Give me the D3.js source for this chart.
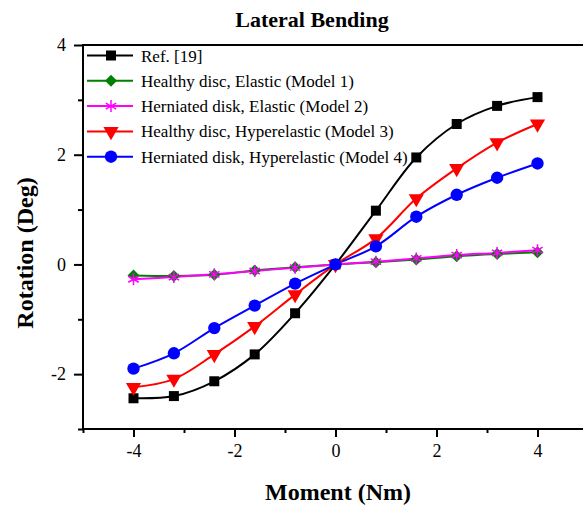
<!DOCTYPE html>
<html>
<head>
<meta charset="utf-8">
<script src="https://cdn.jsdelivr.net/npm/d3@7"></script>
<style>
body { margin: 0; background: #fff; }
text { font-family: "Liberation Serif", "Times New Roman", serif; }
</style>
</head>
<body>
<svg id="vis" width="583" height="506"></svg>
<script>
var moments = [-4, -3.2, -2.4, -1.6, -0.8, 0, 0.8, 1.6, 2.4, 3.2, 4];

var refValues    = [-2.44, -2.40, -2.13, -1.64, -0.89, 0, 0.98, 1.95, 2.56, 2.89, 3.05];
var model1Values = [-0.20, -0.21, -0.19, -0.11, -0.05, 0, 0.04, 0.09, 0.15, 0.19, 0.22];
var model2Values = [-0.27, -0.23, -0.18, -0.12, -0.06, 0, 0.05, 0.11, 0.17, 0.21, 0.26];
var model3Values = [-2.24, -2.09, -1.64, -1.13, -0.55, 0, 0.47, 1.20, 1.75, 2.22, 2.56];
var model4Values = [-1.90, -1.62, -1.16, -0.75, -0.35, 0, 0.33, 0.87, 1.27, 1.58, 1.84];

var seriesNames = [
    "Ref. [19]",
    "Healthy disc, Elastic (Model 1)",
    "Herniated disk, Elastic (Model 2)",
    "Healthy disc, Hyperelastic (Model 3)",
    "Herniated disk, Hyperelastic (Model 4)"
];
var seriesColors = ["#000000", "#008000", "#ff00ff", "#ff0000", "#0000ff"];
var seriesMarkers = ["square", "diamond", "star", "triangleDown", "circle"];

var xMajorTicks = [-4, -2, 0, 2, 4];
var xMinorTicks = [-5, -3, -1, 1, 3, 5];
var yMajorTicks = [-2, 0, 2, 4];
var yMinorTicks = [-3, -1, 1, 3];

var series = [refValues, model1Values, model2Values, model3Values, model4Values].map(function(vals, i) {
    return {
        name: seriesNames[i],
        color: seriesColors[i],
        marker: seriesMarkers[i],
        points: vals.map(function(v, j) { return {x: moments[j], y: v}; })
    };
});

var svg = d3.select("#vis");
var margin = {left: 83, right: -5, top: 45, bottom: 77};
var width = 583 - margin.left - margin.right;
var height = 506 - margin.top - margin.bottom;

var x = d3.scaleLinear().domain([-5, 5]).range([margin.left, margin.left + width]);
var y = d3.scaleLinear().domain([-3, 4]).range([margin.top + height, margin.top]);

var fmt = function(d) { return String(d); }; // plain hyphen minus like the original

// axes
var xAxis = svg.append("g").attr("transform", "translate(0," + y(-3) + ")");
xAxis.call(d3.axisBottom(x).tickValues(xMajorTicks).tickSize(8).tickPadding(7).tickFormat(fmt));
xAxis.append("g").call(d3.axisBottom(x).tickValues(xMinorTicks).tickSize(4).tickFormat(""));

var yAxis = svg.append("g").attr("transform", "translate(" + x(-5) + ",0)");
yAxis.call(d3.axisLeft(y).tickValues(yMajorTicks).tickSize(9).tickPadding(8).tickFormat(fmt));
yAxis.append("g").call(d3.axisLeft(y).tickValues(yMinorTicks).tickSize(5).tickFormat(""));

svg.selectAll(".domain").remove();
svg.selectAll(".tick line").attr("stroke", "#000").attr("stroke-width", 2);
svg.selectAll(".tick text")
    .style("font-family", "Liberation Serif")
    .style("font-size", "18px")
    .attr("fill", "#000");

// frame lines (left, bottom, top)
svg.append("line").attr("x1", x(-5)).attr("x2", x(-5)).attr("y1", y(4)).attr("y2", y(-3))
    .attr("stroke", "#000").attr("stroke-width", 2);
svg.append("line").attr("x1", x(-5) - 1).attr("x2", x(5)).attr("y1", y(-3)).attr("y2", y(-3))
    .attr("stroke", "#000").attr("stroke-width", 2);
svg.append("line").attr("x1", x(-5) - 1).attr("x2", x(5)).attr("y1", y(4)).attr("y2", y(4))
    .attr("stroke", "#000").attr("stroke-width", 2);

// markers
var symbolTypes = {
    square: d3.symbolSquare,
    diamond: d3.symbolSquare,
    triangleDown: d3.symbolTriangle,
    circle: d3.symbolCircle
};
var symbolSizes = {square: 100, diamond: 72, triangleDown: 100, circle: 120};

function drawMarker(g, type, color, cx, cy) {
    if (type === "star") {
        var r = 6;
        var path = "";
        [0, 60, 120].forEach(function(a) {
            var t = a * Math.PI / 180 + Math.PI / 2;
            path += "M" + (cx - r * Math.cos(t)) + "," + (cy - r * Math.sin(t)) +
                    "L" + (cx + r * Math.cos(t)) + "," + (cy + r * Math.sin(t));
        });
        g.append("path").attr("d", path).attr("stroke", color).attr("stroke-width", 1.5).attr("fill", "none");
        return;
    }
    var sym = d3.symbol().type(symbolTypes[type]).size(symbolSizes[type]);
    var tr = "translate(" + cx + "," + cy + ")";
    if (type === "triangleDown") tr += " rotate(180)";
    if (type === "diamond") tr += " rotate(45)";
    g.append("path").attr("d", sym()).attr("transform", tr).attr("fill", color);
}

var line = d3.line()
    .x(function(d) { return x(d.x); })
    .y(function(d) { return y(d.y); })
    .curve(d3.curveCatmullRom.alpha(0.5));

var plot = svg.append("g");
series.forEach(function(s) {
    plot.append("path")
        .datum(s.points)
        .attr("d", line)
        .attr("fill", "none")
        .attr("stroke", s.color)
        .attr("stroke-width", 2);
});
series.forEach(function(s) {
    var g = plot.append("g");
    s.points.forEach(function(p) {
        drawMarker(g, s.marker, s.color, x(p.x), y(p.y));
    });
});

// legend
var legend = svg.append("g");
series.forEach(function(s, i) {
    var ly = 55.5 + i * 25.3;
    legend.append("line").attr("x1", 87).attr("x2", 133).attr("y1", ly).attr("y2", ly)
        .attr("stroke", s.color).attr("stroke-width", 2);
    drawMarker(legend, s.marker, s.color, 111, ly);
    legend.append("text").attr("x", 141).attr("y", ly + 6)
        .style("font-size", "17px").attr("fill", "#000").text(s.name);
});

// title and axis labels
svg.append("text").attr("x", 312).attr("y", 27).attr("text-anchor", "middle")
    .style("font-size", "22px").style("font-weight", "bold").text("Lateral Bending");
svg.append("text").attr("x", 338).attr("y", 500).attr("text-anchor", "middle")
    .style("font-size", "24px").style("font-weight", "bold").text("Moment (Nm)");
svg.append("text").attr("transform", "translate(33,253) rotate(-90)").attr("text-anchor", "middle")
    .style("font-size", "24px").style("font-weight", "bold").text("Rotation (Deg)");
</script>
</body>
</html>
